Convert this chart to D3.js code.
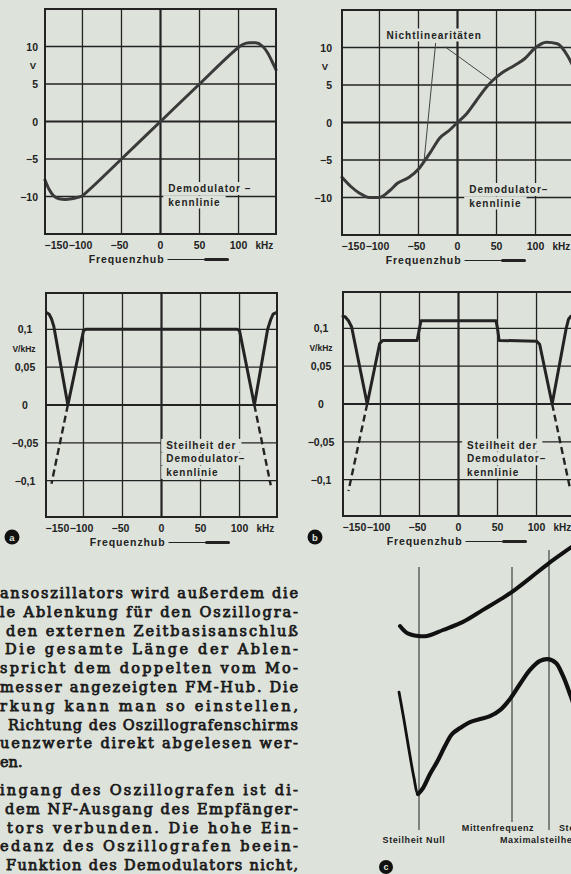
<!DOCTYPE html>
<html><head><meta charset="utf-8">
<script src="https://cdn.jsdelivr.net/npm/d3@7"></script>
<style>
html,body{margin:0;padding:0;background:#dde2da;overflow:hidden}
svg{display:block}
</style></head><body>
<svg id="c" width="571" height="874"></svg>
<script>
// ---------- data ----------
const freqTicks = [-150, -100, -50, 0, 50, 100];
const freqLabels = ["−150", "−100", "−50", "0", "50", "100"];
const voltTicks = [10, 5, 0, -5, -10];
const voltLabels = ["10", "5", "0", "−5", "−10"];
const slopeTicks = [0.1, 0.05, 0, -0.05, -0.1];
const slopeLabels = ["0,1", "0,05", "0", "−0,05", "−0,1"];

// (a) ideal demodulator characteristic, V over kHz
const demodAx = [-148,-143,-137,-130,-122,-114,-106,-100,-95,-50,0,50,95,100,106,114,122,130,137,143,148];
const demodAy = [-7.8,-9.0,-9.9,-10.3,-10.4,-10.3,-10.1,-9.9,-9.45,-5,0,5,9.45,9.9,10.3,10.5,10.5,10.1,9.2,8.0,6.9];
// (b) demodulator characteristic with nonlinearities
const demodBx = [-148,-137,-126,-113,-100,-87,-77,-62,-49,-42,-33,-23,-10,0,12,24,37,45,58,73,86,99,114,128,141,148];
const demodBy = [-7.3,-8.5,-9.4,-10,-10,-9.1,-8.1,-7.3,-6.1,-5.1,-3.7,-2.1,-1.0,0,1.2,2.9,4.7,5.6,6.7,7.6,8.5,9.9,10.7,10.5,8.9,7.5];
const nlStartX = [-28, -16], nlStartY = [10.6, 10.1];
const nlEndX = [-43, 45], nlEndY = [-5.3, 5.5];

// (a) slope V/kHz
const slopeAx = [-147,-144,-141,-138,-120,-100,-97,97,100,119,136,140,143,147];
const slopeAy = [0.122,0.12,0.114,0.104,0,0.098,0.1,0.1,0.098,0,0.1,0.113,0.12,0.122];
const slopeAdashLx = [-120,-141], slopeAdashLy = [0,-0.104];
const slopeAdashRx = [119,140], slopeAdashRy = [0,-0.106];
// (b) slope V/kHz
const slopeBx = [-148,-145,-141,-137,-117,-101,-97,-53,-50,-48,48,50,52,100,104,120,138,141,144,148];
const slopeBy = [0.116,0.115,0.11,0.102,0,0.08,0.084,0.084,0.1,0.11,0.11,0.1,0.084,0.083,0.079,0,0.1,0.112,0.116,0.117];
const slopeBdashLx = [-117,-141], slopeBdashLy = [0,-0.115];
const slopeBdashRx = [120,143], slopeBdashRy = [0,-0.112];

// (c) oscillogram sketch, abstract units 0..100
const oscUpperX = [10,13.5,19,23.5,31.5,41.5,51.5,61.5,66,75,84.5,95,100];
const oscUpperY = [71.3,69,68,68,70,72.7,76.7,80.7,82.7,87.3,92.3,97.3,99.7];
const oscLowerX = [9.5,12,14.5,17,19,21.5,25,28.5,32.5,36,40,45,50,55,60,65,70,75,80,84,88,91.5,95.5,98];
const oscLowerY = [49.3,40,30,20.7,15.3,17.3,22,26,31.3,35.3,37.3,39.3,40.3,41.3,43.3,47,52,56.7,59.7,60.3,59,54.7,47.7,42.7];
const oscMarkX = [19.5, 66, 84.5];
const oscMarkTop = [91, 91, 96.7];
const oscMarkBottom = [3.3, 6, 3.3];

const paraLines = [
 "ansoszillators wird außerdem die",
 "le Ablenkung für den Oszillogra-",
 "den externen Zeitbasisanschluß",
 "Die gesamte Länge der Ablen-",
 "spricht dem doppelten vom Mo-",
 "messer angezeigten FM-Hub. Die",
 "rkung kann man so einstellen,",
 "Richtung des Oszillografenschirms",
 "uenzwerte direkt abgelesen wer-",
 "en.",
 "ingang des Oszillografen ist di-",
 "dem NF-Ausgang des Empfänger-",
 "tors verbunden. Die hohe Ein-",
 "edanz des Oszillografen beein-",
 "Funktion des Demodulators nicht,"
];

// ---------- drawing ----------
const ink = "#232323";
const bg = "#dde2da";
const font = "'Liberation Sans', Arial, sans-serif";
const svg = d3.select("#c");

function knockLabel(g, lines, x0, y0, dy, size) {
  const grp = g.append("g");
  const rects = grp.append("g");
  lines.forEach((t, i) => {
    const tx = grp.append("text").attr("x", x0).attr("y", y0 + i * dy)
      .attr("font-family", font).attr("font-weight", "bold").attr("font-size", size)
      .attr("letter-spacing", 1.0).attr("fill", ink).text(t);
    const b = tx.node().getBBox();
    rects.append("rect").attr("x", b.x - 5).attr("y", b.y - 1)
      .attr("width", b.width + 10).attr("height", b.height + 2).attr("fill", bg);
  });
}

function drawPanel(p) {
  const x = d3.scaleLinear().domain([-148, 148]).range(p.xRange);
  const y = d3.scaleLinear().domain(p.yDomain).range(p.yRange);
  const [L, R] = p.xRange, [B, T] = p.yRange;
  const g = svg.append("g");

  const vt = freqTicks.filter(d => d > -148 && d < 148);
  g.append("g").selectAll("line").data(vt).join("line")
    .attr("x1", d => x(d)).attr("x2", d => x(d)).attr("y1", T).attr("y2", B)
    .attr("stroke", ink).attr("stroke-width", d => d === 0 ? 2.2 : 1.3);
  g.append("g").selectAll("line").data(p.yTicks).join("line")
    .attr("x1", L).attr("x2", R).attr("y1", d => y(d)).attr("y2", d => y(d))
    .attr("stroke", ink).attr("stroke-width", d => d === 0 ? 2.2 : 1.3);

  knockLabel(g, p.labelLines, x(p.labelAt[0]), y(p.labelAt[1]), 13.5, 10);

  if (p.annot) {
    const a = p.annot;
    g.append("g").selectAll("line").data(d3.range(a.sx.length)).join("line")
      .attr("x1", i => x(a.sx[i])).attr("y1", i => y(a.sy[i]))
      .attr("x2", i => x(a.ex[i])).attr("y2", i => y(a.ey[i]))
      .attr("stroke", "#444").attr("stroke-width", 1);
    knockLabel(g, [a.text], x(a.tx), y(a.ty), 0, 10);
  }

  const line = d3.line().x(d => x(d[0])).y(d => y(d[1]));
  p.curves.forEach(c => {
    g.append("path")
      .attr("d", line.curve(c.curve || d3.curveLinear)(d3.zip(c.x, c.y)))
      .attr("fill", "none").attr("stroke", c.color || ink)
      .attr("stroke-width", c.w || 3).attr("stroke-linejoin", "round")
      .attr("stroke-linecap", c.dash ? "butt" : "round")
      .attr("stroke-dasharray", c.dash ? "7,4" : null);
  });

  g.append("rect").attr("x", L).attr("y", T).attr("width", R - L).attr("height", B - T)
    .attr("fill", "none").attr("stroke", ink).attr("stroke-width", 2);

  // y labels
  g.append("g").selectAll("text").data(p.yTicks).join("text")
    .attr("x", p.yLabelX).attr("y", d => y(d) + 4)
    .attr("text-anchor", p.yAnchor)
    .attr("font-family", font).attr("font-weight", "bold").attr("font-size", 10.5)
    .attr("fill", ink).text((d, i) => p.yLabels[i]);
  g.append("text").attr("x", p.unitX).attr("y", y(p.unitAt) + 3.5).attr("text-anchor", "middle")
    .attr("font-family", font).attr("font-weight", "bold").attr("font-size", p.unitSize)
    .attr("fill", ink).text(p.unit);

  // x labels
  g.append("g").selectAll("text").data(freqTicks).join("text")
    .attr("x", d => x(d) + (d === -150 ? 13 : (d < -100 ? 0 : d < 0 ? -2 : 0)))
    .attr("y", B + 15).attr("text-anchor", "middle")
    .attr("font-family", font).attr("font-weight", "bold").attr("font-size", 10.5)
    .attr("fill", ink).text((d, i) => freqLabels[i]);
  g.append("text").attr("x", x(133)).attr("y", B + 15).attr("text-anchor", "middle")
    .attr("font-family", font).attr("font-weight", "bold").attr("font-size", 10)
    .attr("fill", ink).text("kHz");

  const fh = g.append("text").attr("x", x(-92)).attr("y", B + 29)
    .attr("font-family", font).attr("font-weight", "bold").attr("font-size", 10.5)
    .attr("letter-spacing", 0.9).attr("fill", ink).text("Frequenzhub");
  const fb = fh.node().getBBox();
  const ax = fb.x + fb.width + 3, ay = B + 25.5;
  g.append("line").attr("x1", ax).attr("x2", ax + 60).attr("y1", ay).attr("y2", ay)
    .attr("stroke", ink).attr("stroke-width", 1.2);
  g.append("line").attr("x1", ax + 38).attr("x2", ax + 60).attr("y1", ay).attr("y2", ay)
    .attr("stroke", ink).attr("stroke-width", 3).attr("stroke-linecap", "round");

  if (p.circle) {
    g.append("circle").attr("cx", p.circle[0]).attr("cy", p.circle[1]).attr("r", 7.5).attr("fill", "#111");
    g.append("text").attr("x", p.circle[0]).attr("y", p.circle[1] + 3.5).attr("text-anchor", "middle")
      .attr("font-family", font).attr("font-weight", "bold").attr("font-size", 9.5)
      .attr("fill", bg).text(p.circle[2]);
  }
}

drawPanel({
  xRange: [45, 276], yRange: [234, 9], yDomain: [-15, 15],
  yTicks: voltTicks, yLabels: voltLabels, yLabelX: 38, yAnchor: "end",
  unit: "V", unitAt: 7.5, unitX: 33, unitSize: 9.5,
  labelLines: ["Demodulator –", "kennlinie"], labelAt: [10, -9.4],
  curves: [{ x: demodAx, y: demodAy, curve: d3.curveMonotoneX, w: 3, color: "#3a3a3a" }]
});
drawPanel({
  xRange: [342, 573], yRange: [235, 10], yDomain: [-15, 15],
  yTicks: voltTicks, yLabels: voltLabels, yLabelX: 332, yAnchor: "end",
  unit: "V", unitAt: 7.5, unitX: 325, unitSize: 9.5,
  labelLines: ["Demodulator–", "kennlinie"], labelAt: [15, -9.4],
  annot: { sx: nlStartX, sy: nlStartY, ex: nlEndX, ey: nlEndY, text: "Nichtlinearitäten", tx: -91, ty: 11.2 },
  curves: [{ x: demodBx, y: demodBy, curve: d3.curveMonotoneX, w: 3, color: "#3a3a3a" }]
});
drawPanel({
  xRange: [46, 277], yRange: [517, 293], yDomain: [-0.148, 0.148],
  yTicks: slopeTicks, yLabels: slopeLabels, yLabelX: 25, yAnchor: "middle",
  unit: "V/kHz", unitAt: 0.075, unitX: 24, unitSize: 8.5,
  labelLines: ["Steilheit der", "Demodulator–", "kennlinie"], labelAt: [6, -0.058],
  circle: [12, 537, "a"],
  curves: [
    { x: slopeAx, y: slopeAy, w: 3 },
    { x: slopeAdashLx, y: slopeAdashLy, w: 2.4, dash: true },
    { x: slopeAdashRx, y: slopeAdashRy, w: 2.4, dash: true }
  ]
});
drawPanel({
  xRange: [343, 574], yRange: [516, 292], yDomain: [-0.148, 0.148],
  yTicks: slopeTicks, yLabels: slopeLabels, yLabelX: 321, yAnchor: "middle",
  unit: "V/kHz", unitAt: 0.075, unitX: 321, unitSize: 8.5,
  labelLines: ["Steilheit der", "Demodulator–", "kennlinie"], labelAt: [11, -0.059],
  circle: [315, 537, "b"],
  curves: [
    { x: slopeBx, y: slopeBy, w: 3 },
    { x: slopeBdashLx, y: slopeBdashLy, w: 2.4, dash: true },
    { x: slopeBdashRx, y: slopeBdashRy, w: 2.4, dash: true }
  ]
});

// ---------- (c) oscillogram ----------
(function () {
  const x = d3.scaleLinear().domain([0, 100]).range([380, 580]);
  const y = d3.scaleLinear().domain([0, 100]).range([840, 540]);
  const g = svg.append("g");
  g.append("g").selectAll("line").data(oscMarkX).join("line")
    .attr("x1", d => x(d)).attr("x2", d => x(d))
    .attr("y1", (d, i) => y(oscMarkTop[i])).attr("y2", (d, i) => y(oscMarkBottom[i]))
    .attr("stroke", "#333").attr("stroke-width", 1.1);
  const line = d3.line().x(d => x(d[0])).y(d => y(d[1])).curve(d3.curveCatmullRom.alpha(0.5));
  g.append("path").attr("d", line(d3.zip(oscUpperX, oscUpperY)))
    .attr("fill", "none").attr("stroke", "#111").attr("stroke-width", 4).attr("stroke-linecap", "round");
  const low = d3.zip(oscLowerX, oscLowerY);
  g.append("path").attr("d", line(low.slice(0, 6)))
    .attr("fill", "none").attr("stroke", "#111").attr("stroke-width", 2.8).attr("stroke-linecap", "round");
  g.append("path").attr("d", line(low.slice(4)))
    .attr("fill", "none").attr("stroke", "#111").attr("stroke-width", 4.2).attr("stroke-linecap", "round");
  const lab = [["Steilheit Null", 17, 0.0, "middle"], ["Mittenfrequenz", 59, 4.0, "middle"],
               ["Maximalsteilheit", 60, 0.0, "start"], ["Steilheit", 89.5, 4.0, "start"]];
  g.append("g").selectAll("text").data(lab).join("text")
    .attr("x", d => x(d[1])).attr("y", d => y(d[2]) + 3)
    .attr("text-anchor", d => d[3])
    .attr("font-family", font).attr("font-weight", "bold").attr("font-size", 9)
    .attr("letter-spacing", 0.6)
    .attr("fill", ink).text(d => d[0]);
  g.append("circle").attr("cx", 386).attr("cy", 867).attr("r", 7).attr("fill", "#111");
  g.append("text").attr("x", 386).attr("y", 870).attr("text-anchor", "middle")
    .attr("font-family", font).attr("font-weight", "bold").attr("font-size", 9)
    .attr("fill", bg).text("c");
})();

// ---------- text column ----------
(function () {
  const indent = [0,0,6,5,0,0,0,8,0,0,0,5,7,0,6];
  const g = svg.append("g");
  paraLines.forEach((t, i) => {
    const base = i < 10 ? 598 + i * 18.8 : 795 + (i - 10) * 18.8;
    const tx = g.append("text").attr("x", indent[i]).attr("y", base)
      .attr("font-family", "'DejaVu Serif', serif").attr("font-size", 14.5)
      .attr("fill", "#1a1a1a").attr("stroke", "#1a1a1a").attr("stroke-width", 0.75)
      .text(t);
    if (i !== 9) tx.attr("textLength", 298 - indent[i]).attr("lengthAdjust", "spacing");
  });
})();
</script>
</body></html>
